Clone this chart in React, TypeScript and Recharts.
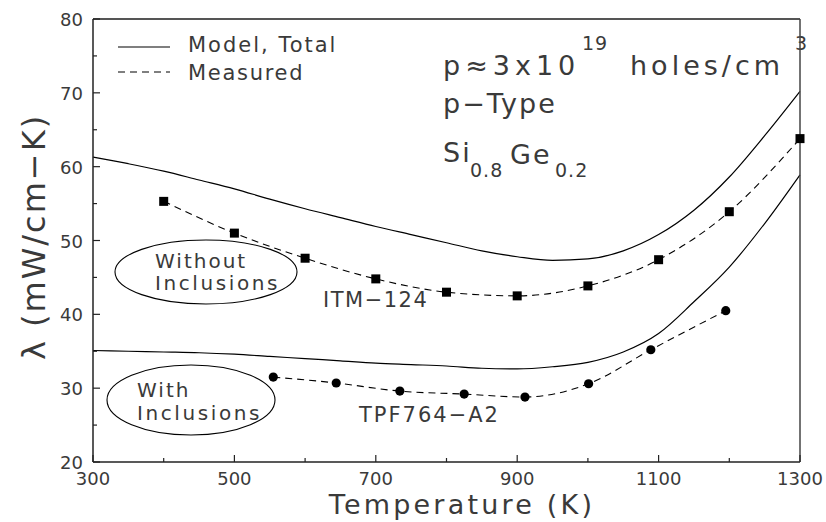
import React from "react";
import { LineChart, Line, XAxis, YAxis } from "recharts";

// model curves (solid), sampled every 50 K
const modelTemps = [300, 350, 400, 450, 500, 550, 600, 650, 700, 750, 800, 850, 900, 950, 1000, 1050, 1100, 1150, 1200, 1250, 1300];
const modelWithout = [61.3, 60.4, 59.4, 58.2, 57.0, 55.6, 54.3, 53.1, 51.9, 50.8, 49.7, 48.6, 47.8, 47.3, 47.5, 48.6, 50.8, 54.1, 58.6, 64.2, 70.2];
const modelWith = [35.1, 35.0, 34.9, 34.8, 34.6, 34.3, 34.0, 33.7, 33.4, 33.2, 33.0, 32.7, 32.6, 32.9, 33.5, 34.9, 37.4, 41.7, 46.4, 52.3, 58.9];

// measured ITM-124 (squares)
const itmTemps = [400, 500, 600, 700, 800, 900, 1000, 1100, 1200, 1300];
const itmValues = [55.3, 51.0, 47.6, 44.8, 43.0, 42.5, 43.85, 47.4, 53.9, 63.8];

// measured TPF764-A2 (circles)
const tpfTemps = [555, 644, 734, 825, 911, 1001, 1089, 1195];
const tpfValues = [31.5, 30.7, 29.6, 29.2, 28.8, 30.6, 35.2, 40.5];

const xTicks = [300, 400, 500, 600, 700, 800, 900, 1000, 1100, 1200, 1300];
const xLabels = [300, 500, 700, 900, 1100, 1300];
const yTicks = [20, 25, 30, 35, 40, 45, 50, 55, 60, 65, 70, 75, 80];
const yLabels = [20, 30, 40, 50, 60, 70, 80];

const modelData = modelTemps.map((t, i) => ({ t, without: modelWithout[i], with: modelWith[i] }));
const itmData = itmTemps.map((t, i) => ({ t, v: itmValues[i] }));
const tpfData = tpfTemps.map((t, i) => ({ t, v: tpfValues[i] }));

const ink = "#222";
const textInk = "#3a3a3a";
const font = "'DejaVu Sans', sans-serif";

const BottomTick = ({ x, y, payload }: any) => {
  const major = xLabels.includes(payload.value);
  return (
    <g>
      <line x1={x} x2={x} y1={y} y2={y - (major ? 7 : 4)} stroke={ink} strokeWidth={1.2} />
      {major && (
        <text x={x} y={y + 23} textAnchor="middle" fontSize={18} fill={textInk} fontFamily={font}>
          {payload.value}
        </text>
      )}
    </g>
  );
};

const TopTick = ({ x, y, payload }: any) => {
  const major = xLabels.includes(payload.value);
  return <line x1={x} x2={x} y1={y} y2={y + (major ? 7 : 4)} stroke={ink} strokeWidth={1.2} />;
};

const LeftTick = ({ x, y, payload }: any) => {
  const major = yLabels.includes(payload.value);
  return (
    <g>
      <line x1={x} x2={x + (major ? 7 : 4)} y1={y} y2={y} stroke={ink} strokeWidth={1.2} />
      {major && (
        <text x={x - 10} y={y + 7} textAnchor="end" fontSize={18} fill={textInk} fontFamily={font}>
          {payload.value}
        </text>
      )}
    </g>
  );
};

const RightTick = ({ x, y, payload }: any) => {
  const major = yLabels.includes(payload.value);
  return <line x1={x} x2={x - (major ? 7 : 4)} y1={y} y2={y} stroke={ink} strokeWidth={1.2} />;
};

const SquareDot = (props: any) => {
  const { cx, cy, index } = props;
  return <rect key={`sq-${index}`} x={cx - 4.5} y={cy - 4.5} width={9} height={9} fill="#000" />;
};

const CircleDot = (props: any) => {
  const { cx, cy, index } = props;
  return <circle key={`ci-${index}`} cx={cx} cy={cy} r={4.6} fill="#000" />;
};

const txt = { fill: textInk, fontFamily: font } as const;

const Annotations = () => (
  <g>
    {/* legend */}
    <line x1={118} x2={170} y1={47} y2={47} stroke="#000" strokeWidth={1.2} />
    <line x1={118} x2={170} y1={72} y2={72} stroke="#000" strokeWidth={1.2} strokeDasharray="7 5" />
    <text x={188} y={52} fontSize={21} letterSpacing={2} {...txt}>Model, Total</text>
    <text x={188} y={80} fontSize={21} letterSpacing={1.7} {...txt}>Measured</text>

    {/* sample info */}
    <text x={443} y={75} fontSize={27} letterSpacing={5} {...txt}>p≈3x10</text>
    <text x={582} y={50} fontSize={19} letterSpacing={1} {...txt}>19</text>
    <text x={630} y={75} fontSize={27} letterSpacing={4} {...txt}>holes/cm</text>
    <text x={795} y={50} fontSize={19} {...txt}>3</text>
    <text x={443} y={113} fontSize={27} letterSpacing={2} {...txt}>p−Type</text>
    <text x={443} y={162} fontSize={27} letterSpacing={2} {...txt}>Si</text>
    <text x={470} y={177} fontSize={19} letterSpacing={1} {...txt}>0.8</text>
    <text x={510} y={164} fontSize={27} letterSpacing={2} {...txt}>Ge</text>
    <text x={555} y={177} fontSize={19} letterSpacing={1} {...txt}>0.2</text>

    {/* sample labels */}
    <text x={323} y={307} fontSize={21} letterSpacing={1.5} {...txt}>ITM−124</text>
    <text x={359} y={422} fontSize={21} letterSpacing={2} {...txt}>TPF764−A2</text>

    <ellipse cx={206} cy={272} rx={91} ry={32} fill="none" stroke="#000" strokeWidth={1.1} />
    <text x={155} y={268} fontSize={20} letterSpacing={2} {...txt}>Without</text>
    <text x={155} y={290} fontSize={20} letterSpacing={2.6} {...txt}>Inclusions</text>

    <ellipse cx={191} cy={400} rx={84} ry={35} fill="none" stroke="#000" strokeWidth={1.1} />
    <text x={137} y={397} fontSize={20} letterSpacing={2} {...txt}>With</text>
    <text x={137} y={420} fontSize={20} letterSpacing={2.6} {...txt}>Inclusions</text>

    {/* axis titles */}
    <text x={462} y={514} fontSize={27} letterSpacing={3.2} textAnchor="middle" {...txt}>Temperature (K)</text>
    <text x={45} y={237} fontSize={32} letterSpacing={2} textAnchor="middle" transform="rotate(-90 45 237)" {...txt}>λ (mW/cm−K)</text>
  </g>
);

export default function App() {
  return (
    <div style={{ position: "absolute", left: 0, top: 0, background: "#fff" }}>
      <LineChart width={826} height={522} margin={{ top: 0, right: 0, bottom: 0, left: 0 }}>
        <XAxis
          xAxisId="b"
          dataKey="t"
          type="number"
          domain={[300, 1300]}
          ticks={xTicks}
          interval={0}
          height={60}
          tickSize={0}
          tickMargin={0}
          tickLine={false}
          tick={<BottomTick />}
          axisLine={{ stroke: ink, strokeWidth: 1.5 }}
        />
        <XAxis
          xAxisId="top"
          orientation="top"
          dataKey="t"
          type="number"
          domain={[300, 1300]}
          ticks={xTicks}
          interval={0}
          height={19}
          tickSize={0}
          tickMargin={0}
          tickLine={false}
          tick={<TopTick />}
          axisLine={{ stroke: "#555", strokeWidth: 1.8 }}
        />
        <YAxis
          yAxisId="l"
          type="number"
          domain={[20, 80]}
          ticks={yTicks}
          interval={0}
          width={93}
          tickSize={0}
          tickMargin={0}
          tickLine={false}
          tick={<LeftTick />}
          axisLine={{ stroke: ink, strokeWidth: 1.5 }}
        />
        <YAxis
          yAxisId="r"
          orientation="right"
          type="number"
          domain={[20, 80]}
          ticks={yTicks}
          interval={0}
          width={26}
          tickSize={0}
          tickMargin={0}
          tickLine={false}
          tick={<RightTick />}
          axisLine={{ stroke: "#444", strokeWidth: 1.5 }}
        />
        <Line xAxisId="b" yAxisId="l" data={modelData} dataKey="without" type="monotone" stroke="#000" strokeWidth={1.2} dot={false} isAnimationActive={false} />
        <Line xAxisId="b" yAxisId="l" data={modelData} dataKey="with" type="monotone" stroke="#000" strokeWidth={1.2} dot={false} isAnimationActive={false} />
        <Line xAxisId="b" yAxisId="l" data={itmData} dataKey="v" type="monotone" stroke="#000" strokeWidth={1.1} strokeDasharray="7 5" dot={SquareDot} isAnimationActive={false} />
        <Line xAxisId="b" yAxisId="l" data={tpfData} dataKey="v" type="monotone" stroke="#000" strokeWidth={1.1} strokeDasharray="7 5" dot={CircleDot} isAnimationActive={false} />
        <Annotations />
      </LineChart>
    </div>
  );
}
